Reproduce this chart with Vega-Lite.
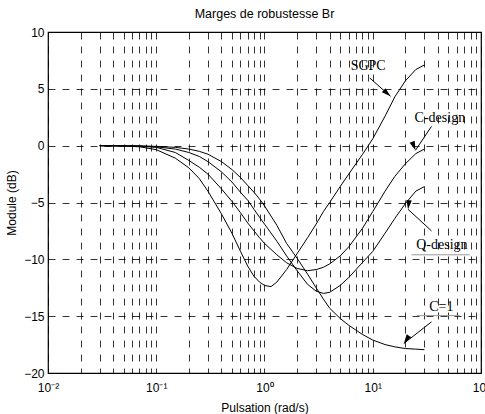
{
  "$schema": "https://vega.github.io/schema/vega-lite/v6.json",
  "width": 433,
  "height": 341,
  "autosize": {"type": "none"},
  "padding": {"left": 48, "top": 32, "right": 4, "bottom": 41},
  "background": "white",
  "config": {
    "font": "Liberation Sans",
    "view": {"stroke": "black", "strokeWidth": 1.2},
    "axis": {
      "labelFont": "Liberation Sans", "labelFontSize": 12, "labelColor": "black",
      "titleFont": "Liberation Sans", "titleFontSize": 12, "titleFontWeight": "normal", "titleColor": "black",
      "domain": false, "ticks": false,
      "gridColor": "black", "gridDash": [7, 7], "gridOpacity": 1, "gridWidth": 0.8
    }
  },
  "title": {"text": "Marges de robustesse Br", "fontSize": 12.5, "fontWeight": "normal", "font": "Liberation Sans", "color": "black", "offset": 6},
  "datasets": {
    "curves": [
      {"s":"SGPC","x":0.03,"y":0},{"s":"SGPC","x":0.05,"y":-0.03},{"s":"SGPC","x":0.07,"y":-0.1},{"s":"SGPC","x":0.1,"y":-0.35},{"s":"SGPC","x":0.15,"y":-1.1},{"s":"SGPC","x":0.2,"y":-1.95},{"s":"SGPC","x":0.25,"y":-2.9},{"s":"SGPC","x":0.3,"y":-4.0},{"s":"SGPC","x":0.4,"y":-6.0},{"s":"SGPC","x":0.5,"y":-7.7},{"s":"SGPC","x":0.6,"y":-9.3},{"s":"SGPC","x":0.7,"y":-10.6},{"s":"SGPC","x":0.8,"y":-11.5},{"s":"SGPC","x":0.9,"y":-12.0},{"s":"SGPC","x":1,"y":-12.3},{"s":"SGPC","x":1.15,"y":-12.4},{"s":"SGPC","x":1.3,"y":-12.0},{"s":"SGPC","x":1.6,"y":-10.9},{"s":"SGPC","x":2,"y":-9.5},{"s":"SGPC","x":2.5,"y":-8.1},{"s":"SGPC","x":3,"y":-6.9},{"s":"SGPC","x":3.5,"y":-5.8},{"s":"SGPC","x":4,"y":-5.0},{"s":"SGPC","x":5,"y":-3.6},{"s":"SGPC","x":6,"y":-2.5},{"s":"SGPC","x":8,"y":-0.8},{"s":"SGPC","x":10,"y":0.6},{"s":"SGPC","x":13,"y":2.6},{"s":"SGPC","x":16,"y":4.3},{"s":"SGPC","x":20,"y":5.7},{"s":"SGPC","x":25,"y":6.7},{"s":"SGPC","x":30,"y":7.1},
      {"s":"C-design","x":0.03,"y":0},{"s":"C-design","x":0.05,"y":-0.02},{"s":"C-design","x":0.07,"y":-0.05},{"s":"C-design","x":0.1,"y":-0.15},{"s":"C-design","x":0.15,"y":-0.6},{"s":"C-design","x":0.2,"y":-1.3},{"s":"C-design","x":0.25,"y":-1.9},{"s":"C-design","x":0.3,"y":-2.5},{"s":"C-design","x":0.4,"y":-3.8},{"s":"C-design","x":0.5,"y":-4.9},{"s":"C-design","x":0.6,"y":-5.9},{"s":"C-design","x":0.7,"y":-6.8},{"s":"C-design","x":0.8,"y":-7.5},{"s":"C-design","x":0.9,"y":-8.1},{"s":"C-design","x":1,"y":-8.6},{"s":"C-design","x":1.3,"y":-9.6},{"s":"C-design","x":1.6,"y":-10.3},{"s":"C-design","x":2,"y":-10.8},{"s":"C-design","x":2.5,"y":-11.0},{"s":"C-design","x":3,"y":-10.9},{"s":"C-design","x":3.5,"y":-10.7},{"s":"C-design","x":4,"y":-10.4},{"s":"C-design","x":5,"y":-9.7},{"s":"C-design","x":6,"y":-8.9},{"s":"C-design","x":8,"y":-7.3},{"s":"C-design","x":10,"y":-5.8},{"s":"C-design","x":13,"y":-4.0},{"s":"C-design","x":16,"y":-2.7},{"s":"C-design","x":20,"y":-1.6},{"s":"C-design","x":25,"y":-0.7},{"s":"C-design","x":30,"y":-0.3},
      {"s":"Q-design","x":0.03,"y":0},{"s":"Q-design","x":0.05,"y":-0.01},{"s":"Q-design","x":0.07,"y":-0.03},{"s":"Q-design","x":0.1,"y":-0.1},{"s":"Q-design","x":0.15,"y":-0.3},{"s":"Q-design","x":0.2,"y":-0.6},{"s":"Q-design","x":0.25,"y":-0.95},{"s":"Q-design","x":0.3,"y":-1.4},{"s":"Q-design","x":0.4,"y":-2.3},{"s":"Q-design","x":0.5,"y":-3.2},{"s":"Q-design","x":0.6,"y":-4.1},{"s":"Q-design","x":0.7,"y":-4.8},{"s":"Q-design","x":0.8,"y":-5.6},{"s":"Q-design","x":0.9,"y":-6.3},{"s":"Q-design","x":1,"y":-6.9},{"s":"Q-design","x":1.3,"y":-8.4},{"s":"Q-design","x":1.6,"y":-9.7},{"s":"Q-design","x":2,"y":-11.0},{"s":"Q-design","x":2.5,"y":-12.2},{"s":"Q-design","x":3,"y":-12.8},{"s":"Q-design","x":3.5,"y":-13.0},{"s":"Q-design","x":4,"y":-12.9},{"s":"Q-design","x":5,"y":-12.3},{"s":"Q-design","x":6,"y":-11.6},{"s":"Q-design","x":8,"y":-10.3},{"s":"Q-design","x":10,"y":-9.3},{"s":"Q-design","x":13,"y":-7.7},{"s":"Q-design","x":16,"y":-6.4},{"s":"Q-design","x":20,"y":-5.1},{"s":"Q-design","x":25,"y":-4.0},{"s":"Q-design","x":30,"y":-3.6},
      {"s":"C=1","x":0.03,"y":0},{"s":"C=1","x":0.05,"y":-0.01},{"s":"C=1","x":0.07,"y":-0.02},{"s":"C=1","x":0.1,"y":-0.06},{"s":"C=1","x":0.15,"y":-0.15},{"s":"C=1","x":0.2,"y":-0.3},{"s":"C=1","x":0.25,"y":-0.5},{"s":"C=1","x":0.3,"y":-0.75},{"s":"C=1","x":0.4,"y":-1.4},{"s":"C=1","x":0.5,"y":-2.1},{"s":"C=1","x":0.6,"y":-2.8},{"s":"C=1","x":0.7,"y":-3.5},{"s":"C=1","x":0.8,"y":-4.1},{"s":"C=1","x":0.9,"y":-4.7},{"s":"C=1","x":1,"y":-5.3},{"s":"C=1","x":1.3,"y":-7.0},{"s":"C=1","x":1.6,"y":-8.6},{"s":"C=1","x":2,"y":-9.9},{"s":"C=1","x":2.5,"y":-11.3},{"s":"C=1","x":3,"y":-12.5},{"s":"C=1","x":3.5,"y":-13.5},{"s":"C=1","x":4,"y":-14.3},{"s":"C=1","x":5,"y":-15.2},{"s":"C=1","x":6,"y":-15.8},{"s":"C=1","x":8,"y":-16.6},{"s":"C=1","x":10,"y":-17.1},{"s":"C=1","x":13,"y":-17.5},{"s":"C=1","x":16,"y":-17.7},{"s":"C=1","x":20,"y":-17.85},{"s":"C=1","x":25,"y":-17.9},{"s":"C=1","x":30,"y":-17.95}
    ],
    "notes": [
      {"label":"SGPC","tx":9.07,"ty":6.97,"x":9.4,"y":5.95,"x2":14.6,"y2":4.34},
      {"label":"C-design","tx":41.7,"ty":2.4,"x":34.9,"y":1.7,"x2":24.8,"y2":-0.41},
      {"label":"Q-design","tx":43.5,"ty":-8.7,"x":34.9,"y":-7.5,"x2":21.2,"y2":-5.6},
      {"label":"C=1","tx":43,"ty":-14.2,"x":34.9,"y":-15.5,"x2":19.4,"y2":-17.4}
    ],
    "underlines": [
      {"label":"Q-design","x":22.8,"x2":78.7,"y":-9.6},
      {"label":"C=1","x":25.6,"x2":63.7,"y":-14.95}
    ]
  },
  "layer": [
    {
      "data": {"name": "curves"},
      "mark": {"type": "line", "color": "black", "strokeWidth": 1, "clip": true},
      "encoding": {
        "x": {
          "field": "x", "type": "quantitative",
          "scale": {"type": "log", "domain": [0.01, 100], "nice": false},
          "axis": {
            "title": "Pulsation (rad/s)",
            "values": [0.01,0.02,0.03,0.04,0.05,0.06,0.07,0.08,0.09,0.1,0.2,0.3,0.4,0.5,0.6,0.7,0.8,0.9,1,2,3,4,5,6,7,8,9,10,20,30,40,50,60,70,80,90,100],
            "labelExpr": "datum.value == 0.01 ? '10⁻²' : datum.value == 0.1 ? '10⁻¹' : datum.value == 1 ? '10⁰' : datum.value == 10 ? '10¹' : datum.value == 100 ? '10²' : ''",
            "labelFlush": false, "labelOverlap": false, "labelBound": false,
            "labelPadding": 9, "titlePadding": 9, "grid": true
          }
        },
        "y": {
          "field": "y", "type": "quantitative",
          "scale": {"domain": [-20, 10], "nice": false},
          "axis": {
            "title": "Module (dB)",
            "values": [-20,-15,-10,-5,0,5,10],
            "labelPadding": 4, "titlePadding": 5, "grid": true
          }
        },
        "detail": {"field": "s"}
      }
    },
    {
      "data": {"name": "underlines"},
      "mark": {"type": "rule", "color": "#999999", "strokeWidth": 1},
      "encoding": {
        "x": {"field": "x", "type": "quantitative"},
        "x2": {"field": "x2"},
        "y": {"field": "y", "type": "quantitative"}
      }
    },
    {
      "data": {"name": "notes"},
      "mark": {"type": "rule", "color": "black", "strokeWidth": 1},
      "encoding": {
        "x": {"field": "x", "type": "quantitative"},
        "y": {"field": "y", "type": "quantitative"},
        "x2": {"field": "x2"},
        "y2": {"field": "y2"}
      }
    },
    {
      "data": {"name": "notes"},
      "mark": {"type": "point", "shape": "M0,0L-0.42,1.4L0.42,1.4Z", "filled": true, "color": "black", "opacity": 1, "size": 170},
      "encoding": {
        "x": {"field": "x2", "type": "quantitative"},
        "y": {"field": "y2", "type": "quantitative"},
        "angle": {"field": "label", "type": "nominal", "scale": {"domain": ["SGPC","C-design","Q-design","C=1"], "range": [131.6, 213.7, 312.8, 231.2]}, "legend": null}
      }
    },
    {
      "data": {"name": "notes"},
      "mark": {"type": "text", "font": "Liberation Serif", "fontSize": 14, "color": "black", "align": "center", "baseline": "middle"},
      "encoding": {
        "x": {"field": "tx", "type": "quantitative"},
        "y": {"field": "ty", "type": "quantitative"},
        "text": {"field": "label"}
      }
    }
  ]
}
